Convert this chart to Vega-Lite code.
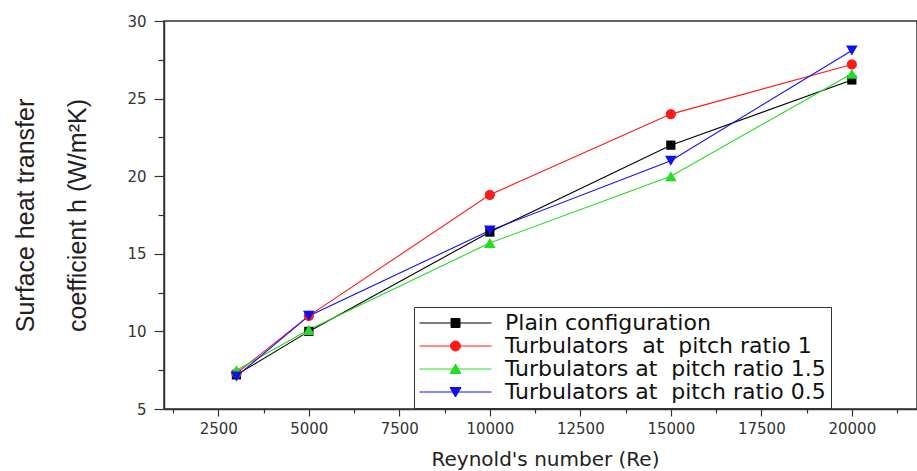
{
  "$schema": "https://vega.github.io/schema/vega-lite/v6.json",
  "autosize": {"type": "none"},
  "padding": {"left": 164, "top": 21, "right": 0, "bottom": 62},
  "width": 753,
  "height": 388,
  "background": "white",
  "config": {
    "view": {"stroke": "#333", "strokeWidth": 1.5},
    "axis": {"grid": false, "domainColor": "#333", "domainWidth": 1.5, "tickColor": "#333", "tickWidth": 1.2}
  },
  "data": {
    "values": [
      {"series": "Plain configuration", "Re": 3000, "h": 7.2},
      {"series": "Plain configuration", "Re": 5000, "h": 10.0},
      {"series": "Plain configuration", "Re": 10000, "h": 16.4},
      {"series": "Plain configuration", "Re": 15000, "h": 22.0},
      {"series": "Plain configuration", "Re": 20000, "h": 26.2},
      {"series": "Turbulators\u00a0 at\u00a0 pitch ratio 1", "Re": 3000, "h": 7.3},
      {"series": "Turbulators\u00a0 at\u00a0 pitch ratio 1", "Re": 5000, "h": 11.0},
      {"series": "Turbulators\u00a0 at\u00a0 pitch ratio 1", "Re": 10000, "h": 18.8},
      {"series": "Turbulators\u00a0 at\u00a0 pitch ratio 1", "Re": 15000, "h": 24.0},
      {"series": "Turbulators\u00a0 at\u00a0 pitch ratio 1", "Re": 20000, "h": 27.2},
      {"series": "Turbulators at\u00a0 pitch ratio 1.5", "Re": 3000, "h": 7.5},
      {"series": "Turbulators at\u00a0 pitch ratio 1.5", "Re": 5000, "h": 10.1},
      {"series": "Turbulators at\u00a0 pitch ratio 1.5", "Re": 10000, "h": 15.7},
      {"series": "Turbulators at\u00a0 pitch ratio 1.5", "Re": 15000, "h": 20.0},
      {"series": "Turbulators at\u00a0 pitch ratio 1.5", "Re": 20000, "h": 26.6},
      {"series": "Turbulators at\u00a0 pitch ratio 0.5", "Re": 3000, "h": 7.1},
      {"series": "Turbulators at\u00a0 pitch ratio 0.5", "Re": 5000, "h": 11.0},
      {"series": "Turbulators at\u00a0 pitch ratio 0.5", "Re": 10000, "h": 16.5},
      {"series": "Turbulators at\u00a0 pitch ratio 0.5", "Re": 15000, "h": 21.0},
      {"series": "Turbulators at\u00a0 pitch ratio 0.5", "Re": 20000, "h": 28.1}
    ]
  },
  "resolve": {"axis": {"x": "independent", "y": "independent"}},
  "layer": [
    {
      "mark": {"type": "line", "strokeWidth": 1.1},
      "encoding": {
        "x": {
          "field": "Re", "type": "quantitative",
          "scale": {"domain": [1000, 21800], "nice": false, "zero": false},
          "axis": {
            "orient": "bottom",
            "values": [2500, 5000, 7500, 10000, 12500, 15000, 17500, 20000],
            "format": "d",
            "tickSize": 7,
            "labelFont": "DejaVu Sans", "labelFontSize": 15, "labelColor": "#333", "labelPadding": 5,
            "title": "Reynold's number (Re)",
            "titleFont": "DejaVu Sans", "titleFontSize": 20, "titleFontWeight": "normal", "titleColor": "#222",
            "titleX": 381, "titleY": 56, "titleBaseline": "alphabetic", "titleAlign": "center"
          }
        },
        "y": {
          "field": "h", "type": "quantitative",
          "scale": {"domain": [5, 30], "nice": false, "zero": false},
          "axis": {
            "orient": "left",
            "values": [5, 10, 15, 20, 25, 30],
            "tickSize": 10,
            "labelFont": "DejaVu Sans", "labelFontSize": 15, "labelColor": "#333", "labelPadding": 8,
            "title": ["Surface heat transfer", "coefficient h (W/m\u00b2K)"],
            "titleFont": "Liberation Sans", "titleFontSize": 25, "titleFontWeight": "normal", "titleColor": "#222",
            "titleLineHeight": 52, "titleX": -139, "titleY": 194, "titleAngle": 270,
            "titleBaseline": "middle", "titleAlign": "center"
          }
        },
        "color": {
          "field": "series", "type": "nominal",
          "scale": {
            "domain": ["Plain configuration", "Turbulators\u00a0 at\u00a0 pitch ratio 1", "Turbulators at\u00a0 pitch ratio 1.5", "Turbulators at\u00a0 pitch ratio 0.5"],
            "range": ["#000000", "#ff1a1a", "#22dd22", "#1010ee"]
          },
          "legend": {
            "orient": "none", "legendX": 250, "legendY": 286,
            "title": null,
            "strokeColor": "#333", "fillColor": "white", "padding": 5,
            "rowPadding": 1,
            "symbolSize": 100, "symbolStrokeWidth": 1,
            "labelFont": "DejaVu Sans", "labelFontSize": 22, "labelColor": "#111", "labelOffset": 64,
            "labelLimit": 600,
            "encode": {
              "symbols": {
                "update": {
                  "shape": {"signal": "datum.value === 'Plain configuration' ? 'M-2.1,0H12.3M4.2,-0.9H6V0.9H4.2Z' : indexof(datum.value, ' 1.5') >= 0 ? 'M-2.1,0H12.3M5.1,-1L6.2,0.9H4Z' : indexof(datum.value, ' 0.5') >= 0 ? 'M-2.1,0H12.3M5.1,1L6.2,-0.9H4Z' : 'M-2.1,0H12.3M4.1,0A1,1 0 1,0 6.1,0A1,1 0 1,0 4.1,0Z'"},
                  "stroke": {"scale": "color", "field": "value"},
                  "fill": {"scale": "color", "field": "value"},
                  "strokeWidth": {"value": 1},
                  "opacity": {"value": 1}
                }
              }
            }
          }
        },
        "order": {"field": "Re", "type": "quantitative"}
      }
    },
    {
      "transform": [{"filter": {"field": "series", "equal": "Plain configuration"}}],
      "mark": {"type": "point", "shape": "square", "filled": true, "opacity": 1, "size": 85, "color": "#000000"},
      "encoding": {
        "x": {
          "field": "Re", "type": "quantitative",
          "axis": {
            "orient": "bottom",
            "values": [1250, 3750, 6250, 8750, 11250, 13750, 16250, 18750, 21250],
            "labels": false, "domain": false, "tickSize": 4, "title": null
          }
        },
        "y": {
          "field": "h", "type": "quantitative",
          "axis": {
            "orient": "left",
            "values": [7.5, 12.5, 17.5, 22.5, 27.5],
            "labels": false, "domain": false, "tickSize": 6, "title": null
          }
        }
      }
    },
    {
      "transform": [{"filter": {"field": "series", "equal": "Turbulators\u00a0 at\u00a0 pitch ratio 1"}}],
      "mark": {"type": "point", "shape": "circle", "filled": true, "opacity": 1, "size": 105, "color": "#ff1a1a"},
      "encoding": {
        "x": {"field": "Re", "type": "quantitative", "axis": null},
        "y": {"field": "h", "type": "quantitative", "axis": null}
      }
    },
    {
      "transform": [{"filter": {"field": "series", "equal": "Turbulators at\u00a0 pitch ratio 1.5"}}],
      "mark": {"type": "point", "shape": "triangle-up", "filled": true, "opacity": 1, "size": 135, "color": "#22dd22"},
      "encoding": {
        "x": {"field": "Re", "type": "quantitative", "axis": null},
        "y": {"field": "h", "type": "quantitative", "axis": null}
      }
    },
    {
      "transform": [{"filter": {"field": "series", "equal": "Turbulators at\u00a0 pitch ratio 0.5"}}],
      "mark": {"type": "point", "shape": "triangle-down", "filled": true, "opacity": 1, "size": 135, "color": "#1010ee"},
      "encoding": {
        "x": {"field": "Re", "type": "quantitative", "axis": null},
        "y": {"field": "h", "type": "quantitative", "axis": null}
      }
    }
  ]
}
